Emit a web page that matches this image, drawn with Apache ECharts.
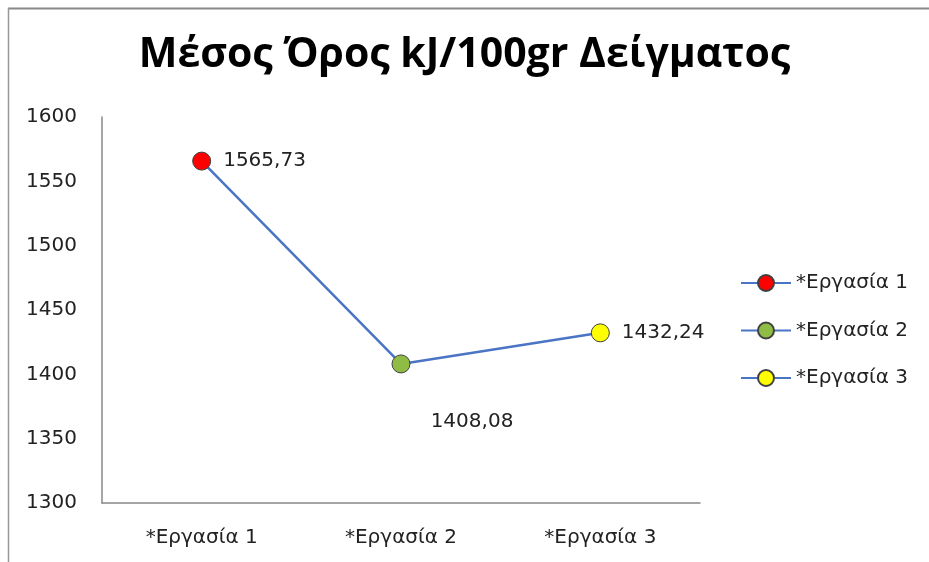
<!DOCTYPE html>
<html>
<head>
<meta charset="utf-8">
<script src="https://cdn.jsdelivr.net/npm/echarts@6/dist/echarts.min.js"></script>
<style>
  html, body { margin: 0; padding: 0; background: #fff; }
  #chart { width: 929px; height: 562px; }
</style>
</head>
<body>
<div id="chart"></div>
<script>
var categories = ["*Εργασία 1", "*Εργασία 2", "*Εργασία 3"];
var values = [1565.73, 1408.08, 1432.24];
var pointColors = ["#ff0000", "#8fbc45", "#ffff00"];
var yTicks = [1300, 1350, 1400, 1450, 1500, 1550, 1600];

var lineColor = "#4a74c4";
var titleFont = "'Open Sans', sans-serif";
var font = "'DejaVu Sans', sans-serif";

// label positions per point (like in the excel chart)
var labelSetup = [
  { position: "right", distance: 12 },
  { position: "bottom", distance: 38, offset: [71, 0] },
  { position: "right", distance: 12 }
];

var chart = echarts.init(document.getElementById("chart"));

var pointData = values.map(function (v, i) {
  var lab = labelSetup[i];
  return {
    value: v,
    itemStyle: { color: pointColors[i] },
    label: {
      position: lab.position,
      distance: lab.distance,
      offset: lab.offset || [0, 0]
    }
  };
});

// dummy series only for the legend entries
var legendSeries = categories.map(function (name, i) {
  return {
    name: name,
    type: "line",
    data: [],
    symbol: "circle",
    symbolSize: 18,
    itemStyle: { color: pointColors[i], borderColor: "#404040", borderWidth: 1 },
    lineStyle: { color: lineColor, width: 3 }
  };
});

var option = {
  animation: false,
  backgroundColor: "#fff",
  title: {
    text: "Μέσος Όρος kJ/100gr Δείγματος",
    left: "center",
    top: 30,
    textStyle: { fontFamily: titleFont, fontSize: 41, fontWeight: "bold", color: "#000" }
  },
  graphic: [
    { type: "line", shape: { x1: 8, y1: 8.5, x2: 929, y2: 8.5 }, style: { stroke: "#888", lineWidth: 2 } },
    { type: "line", shape: { x1: 8.5, y1: 8, x2: 8.5, y2: 562 }, style: { stroke: "#999", lineWidth: 1.5 } }
  ],
  legend: {
    orient: "vertical",
    left: 735,
    top: 268,
    itemWidth: 50,
    itemHeight: 20,
    itemGap: 27.5,
    data: categories,
    textStyle: { fontFamily: font, fontSize: 20, color: "#222" }
  },
  grid: { left: 102, top: 117, width: 598, height: 386 },
  xAxis: {
    type: "category",
    data: categories,
    boundaryGap: true,
    axisLine: { lineStyle: { color: "#888", width: 1.5 } },
    axisTick: { show: false },
    axisLabel: { fontFamily: font, fontSize: 20, color: "#222", margin: 25 }
  },
  yAxis: {
    type: "value",
    min: yTicks[0],
    max: yTicks[yTicks.length - 1],
    interval: 50,
    axisLine: { show: true, lineStyle: { color: "#888", width: 1.5 } },
    axisTick: { show: false },
    splitLine: { show: false },
    axisLabel: {
      fontFamily: font, fontSize: 20, color: "#222", margin: 25,
      formatter: function (v) { return String(v); }
    }
  },
  series: [
    {
      name: "values",
      type: "line",
      data: pointData,
      symbol: "circle",
      symbolSize: 18,
      lineStyle: { color: lineColor, width: 2.5 },
      itemStyle: { borderColor: "#404040", borderWidth: 1 },
      label: {
        show: true,
        fontFamily: font,
        fontSize: 20,
        color: "#222",
        formatter: function (p) {
          return p.value.toFixed(2).replace(".", ",");
        }
      }
    }
  ].concat(legendSeries)
};

chart.setOption(option);
window.addEventListener("resize", function () {
  chart.resize();
});
</script>
</body>
</html>
